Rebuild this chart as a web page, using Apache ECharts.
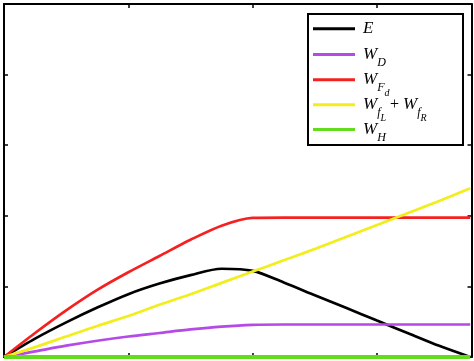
<!DOCTYPE html>
<html>
<head>
<meta charset="utf-8">
<script src="https://cdn.jsdelivr.net/npm/echarts@6/dist/echarts.min.js"></script>
<style>html,body{margin:0;padding:0;background:#fff;}#c{width:474px;height:361px;}</style>
</head>
<body>
<div id="c"></div>
<script>
// shared x positions
var xs = [0, 0.25, 0.5, 0.75, 1, 1.25, 1.5, 1.75, 2, 2.25, 2.5, 2.75, 3, 3.25, 3.5, 3.75];
// series values
var E    = [0, 0.26, 0.49, 0.70, 0.89, 1.04, 1.16, 1.25, 1.22, 1.055, 0.875, 0.696, 0.516, 0.337, 0.158, 0];
var WD   = [0, 0.08, 0.16, 0.23, 0.29, 0.34, 0.39, 0.43, 0.455, 0.46, 0.46, 0.46, 0.46, 0.46, 0.46, 0.46];
var WFd  = [0, 0.34, 0.66, 0.95, 1.2, 1.43, 1.66, 1.86, 1.97, 1.975, 1.975, 1.975, 1.975, 1.975, 1.975, 1.975];
var Wf   = [0, 0.14, 0.29, 0.44, 0.58, 0.74, 0.89, 1.05, 1.21, 1.37, 1.53, 1.70, 1.87, 2.04, 2.21, 2.39];
var WH   = [0, 0, 0, 0, 0, 0, 0, 0, 0, 0, 0, 0, 0, 0, 0, 0];
var names = ['E', 'W_D', 'W_Fd', 'W_fL+W_fR', 'W_H'];
var labels = {
  'E': '{m|E}',
  'W_D': '{m|W}{s|D}',
  'W_Fd': '{m|W}{s|F}{ss|d}',
  'W_fL+W_fR': '{m|W}{s|f}{ss|L}{p| + }{m|W}{s|f}{ss|R}',
  'W_H': '{m|W}{s|H}'
};
var legendTops = [20.25, 46, 71.25, 96.25, 121];
var colors = ['#000000', '#b44ae8', '#f52020', '#f2ee1c', '#62dc1c'];
var widths = [2.7, 2.7, 2.7, 2.7, 4];
var xMin = 0, xMax = 3.76, yMin = 0, yMax = 5;

function pairs(arr) { return xs.map(function (x, i) { return [x, arr[i]]; }); }
var vals = [E, WD, WFd, Wf, WH];

var serif = 'Liberation Serif';
var axisCommon = {
  type: 'value',
  axisLine: { show: true, onZero: false, lineStyle: { color: '#000', width: 2 } },
  axisTick: { show: true, inside: true, length: 4, lineStyle: { color: '#000', width: 1.5 } },
  axisLabel: { show: false },
  splitLine: { show: false }
};
function ax(extra) { return Object.assign({}, JSON.parse(JSON.stringify(axisCommon)), extra); }

var rich = {
  m: { fontSize: 17, fontStyle: 'italic', fontFamily: serif },
  s: { fontSize: 12, fontStyle: 'italic', fontFamily: serif, padding: [16, 0, 0, 0] },
  ss: { fontSize: 10, fontStyle: 'italic', fontFamily: serif, padding: [28, 0, 0, 0] },
  p: { fontSize: 16, fontFamily: serif }
};

var legends = names.map(function (n, i) {
  return {
    orient: 'vertical', left: 313, top: legendTops[i], padding: 0,
    itemWidth: 42, itemHeight: 3, icon: 'rect',
    selectedMode: false, z: 5,
    data: [n],
    formatter: function (nm) { return labels[nm]; },
    textStyle: { color: '#000', fontFamily: serif, rich: rich, padding: [0, 0, 0, 3] }
  };
});

var chart = echarts.init(document.getElementById('c'), null, { renderer: 'canvas' });
chart.setOption({
  animation: false,
  backgroundColor: '#fff',
  grid: { left: 4, right: 2.5, top: 4, bottom: 4 },
  xAxis: [
    ax({ position: 'bottom', min: xMin, max: xMax, interval: 1 }),
    ax({ position: 'top', min: xMin, max: xMax, interval: 1 })
  ],
  yAxis: [
    ax({ position: 'left', min: yMin, max: yMax, interval: 1 }),
    ax({ position: 'right', min: yMin, max: yMax, interval: 1 })
  ],
  graphic: [{
    type: 'rect', z: 3,
    shape: { x: 308, y: 14, width: 155, height: 131 },
    style: { fill: '#fff', stroke: '#000', lineWidth: 2 }
  }],
  legend: legends,
  series: names.map(function (n, i) {
    return {
      name: n, type: 'line', symbol: 'none', showSymbol: false, data: pairs(vals[i]),
      smooth: i === 4 ? false : 0.3,
      clip: false,
      lineStyle: { color: colors[i], width: widths[i] },
      itemStyle: { color: colors[i] },
      z: 2 + i * 0.01
    };
  })
});
</script>
</body>
</html>
